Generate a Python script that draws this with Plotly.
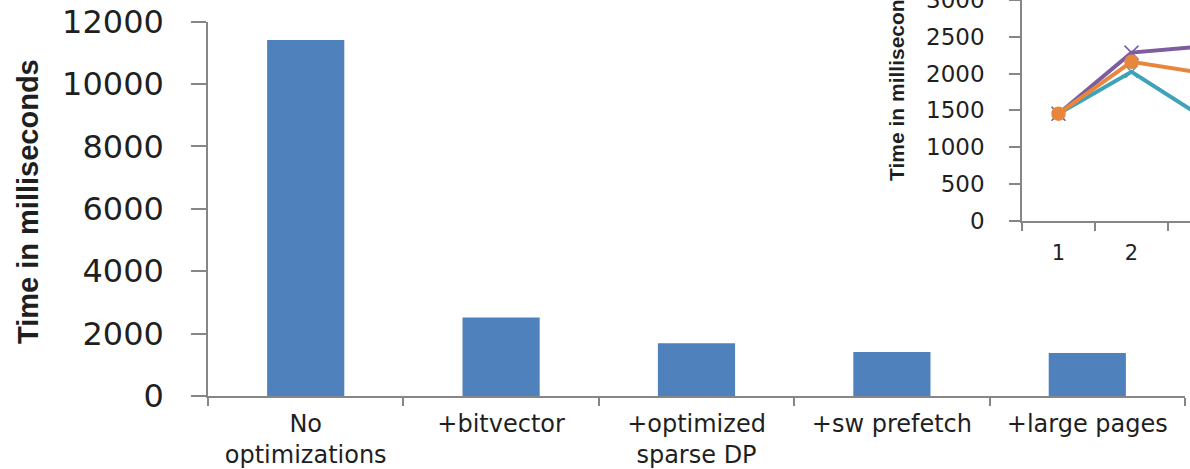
import plotly.graph_objects as go

# Main bar chart: run time per optimization step
categories = ["No<br>optimizations", "+bitvector", "+optimized<br>sparse DP",
              "+sw prefetch", "+large pages"]
times_ms = [11410, 2520, 1690, 1410, 1380]

# Inset line chart
inset_x = ["1", "2", "3"]
series_purple = [1455, 2285, 2370]
series_orange = [1455, 2160, 2005]
series_teal = [1455, 2025, 1390]

W, H = 1190, 469


def px_x(p):
    return p / W


def px_y(p):
    return 1 - p / H


AXIS_GRAY = "#868686"
TEXT = "#1f1f1f"
TICK_FONT = "DejaVu Sans"
TITLE_FONT = "Liberation Sans, Arial, sans-serif"

fig = go.Figure()

fig.add_trace(go.Bar(
    x=categories, y=times_ms, marker=dict(color="#4F81BD", line=dict(width=0)),
    xaxis="x", yaxis="y", showlegend=False,
))

for vals, color, sym, msize in [
    (series_teal, "#3FA2B9", "x-thin", 12),
    (series_purple, "#7D5DA0", "x-thin", 14),
    (series_orange, "#E8873C", "circle", 13),
]:
    fig.add_trace(go.Scatter(
        x=inset_x, y=vals, mode="lines+markers",
        line=dict(color=color, width=4),
        marker=dict(symbol=sym, size=msize, color=color,
                    line=dict(color=color, width=1.5)),
        xaxis="x2", yaxis="y2", showlegend=False, cliponaxis=True,
    ))

common = dict(showline=True, linecolor=AXIS_GRAY, linewidth=1.5,
              ticks="outside", tickcolor=AXIS_GRAY, tickwidth=1.5,
              showgrid=False, zeroline=False, automargin=False)

fig.update_layout(
    width=W, height=H,
    margin=dict(l=0, r=0, t=0, b=0, autoexpand=False),
    paper_bgcolor="white", plot_bgcolor="rgba(0,0,0,0)",
    bargap=0.605,
    xaxis=dict(
        domain=[px_x(208), px_x(1185)],
        type="category", range=[-0.5, 4.5],
        tickson="boundaries", ticklen=8,
        tickfont=dict(family=TICK_FONT, size=24, color=TEXT),
        ticklabelstandoff=5,
        anchor="y", **common,
    ),
    yaxis=dict(
        domain=[px_y(396), px_y(21.7)],
        range=[0, 12000], dtick=2000, tickformat="d",
        ticklen=15,
        tickfont=dict(family=TICK_FONT, size=32, color=TEXT),
        ticklabelstandoff=21,
        anchor="x", **common,
    ),
    xaxis2=dict(
        domain=[px_x(1022), 1.0],
        type="category", range=[-0.5, -0.5 + 168 / 73],
        tickson="boundaries", ticklen=9,
        tickfont=dict(family=TICK_FONT, size=21, color=TEXT),
        ticklabelstandoff=12,
        anchor="y2", **common,
    ),
    yaxis2=dict(
        domain=[px_y(220.7), 1.0],
        range=[0, 3000], dtick=500, tickformat="d",
        ticklen=11,
        tickfont=dict(family=TICK_FONT, size=23, color=TEXT),
        ticklabelstandoff=20, ticklabeloverflow="allow",
        anchor="x2", **common,
    ),
    annotations=[
        dict(text="<b>Time in milliseconds</b>", textangle=-90,
             x=px_x(28), y=px_y(202), xref="paper", yref="paper",
             xanchor="center", yanchor="middle", showarrow=False,
             font=dict(family=TITLE_FONT, size=29, color=TEXT)),
        dict(text="<b>Time in milliseconds</b>", textangle=-90,
             x=px_x(897), y=px_y(78), xref="paper", yref="paper",
             xanchor="center", yanchor="middle", showarrow=False,
             font=dict(family=TITLE_FONT, size=21, color=TEXT)),
    ],
)

fig.write_html("out.html")
